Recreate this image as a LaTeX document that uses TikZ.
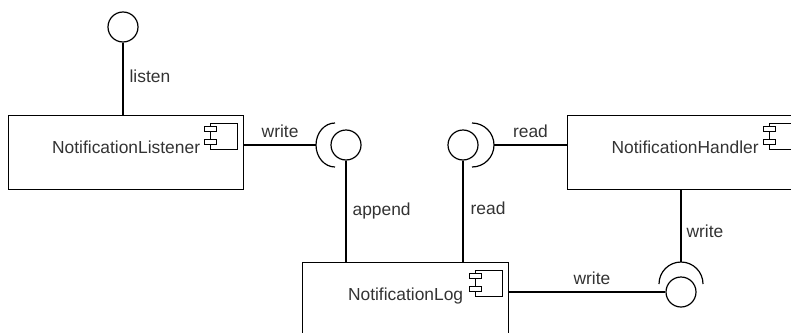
\documentclass[tikz,border=0pt]{standalone}
\usepackage{fontspec}
\setmainfont{Liberation Sans}
\definecolor{txtgray}{HTML}{333333}

\begin{document}
\begin{tikzpicture}
  [
    x = 1pt, y = -1pt,
    line width = 1.2pt,
    every node/.style = {font=\fontsize{17.4}{20}\selectfont, text=txtgray},
    % box with the little module symbol in its top right corner
    component/.style = {shape=rectangle, draw, anchor=north west,
                        minimum height=74pt, text height=12.7pt, text depth=10pt,
                        path picture={
                          \coordinate (ic) at ([xshift=-6pt,yshift=-8pt]path picture bounding box.north east);
                          \draw (ic) rectangle ++(-27pt,-26pt);
                          \draw [fill=white] ([xshift=-33pt,yshift=-3pt]ic) rectangle ++(12pt,-5pt);
                          \draw [fill=white] ([xshift=-33pt,yshift=-16pt]ic) rectangle ++(12pt,-5pt);
                        }},
    iface/.style = {shape=circle, draw, fill=white, minimum size=30pt, inner sep=0pt},
    tag/.style = {inner sep=0pt, text height=12.5pt, text depth=0pt}
  ]
  \path [use as bounding box, clip] (0,0) rectangle (791,332);

  % components
  \node [component, minimum width=235pt] (listener) at (8,115) {NotificationListener};
  \node [component, minimum width=235pt] (handler) at (567,115) {NotificationHandler};
  \node [component, minimum width=206pt] (log) at (302,262) {NotificationLog};

  % provided interfaces
  \node [iface] (listen) at (123,27) {};
  \node [iface] (append) at (346,145) {};
  \node [iface] (readif) at (463,145) {};
  \node [iface] (writeif) at (681,292) {};

  % sockets
  \draw ([xshift=-11pt,yshift=22pt]append.center)
    arc [start angle=90, end angle=270, x radius=19pt, y radius=22pt];
  \draw ([xshift=9pt,yshift=22pt]readif.center)
    arc [start angle=90, end angle=-90, radius=22pt];
  \draw ([xshift=-22pt,yshift=8pt]writeif.center)
    arc [start angle=180, end angle=0, radius=22pt];
  \coordinate (appendsock) at ([xshift=-30pt]append.center);
  \coordinate (readsock) at ([xshift=31pt]readif.center);
  \coordinate (writesock) at ([yshift=30pt]writeif.center);

  % wires
  \draw (listen.south) -- node [tag, pos=0.46, right=6pt] {listen} (listen.south |- listener.north);
  \draw (listener.east |- append) -- node [tag, above=7pt] {write} (appendsock);
  \draw (append.south) -- node [tag, pos=0.48, right=6pt] {append} (append.south |- log.north);
  \draw (readif.south) -- node [tag, pos=0.47, right=7pt] {read} (readif.south |- log.north);
  \draw (readsock) -- node [tag, above=7pt] {read} (handler.west |- readsock);
  \draw (handler.south -| writeif) -- node [tag, pos=0.57, right=5pt] {write} (writesock);
  \draw (log.east |- writeif) -- node [tag, pos=0.53, above=7pt] {write} (writeif.west);
\end{tikzpicture}
\end{document}
